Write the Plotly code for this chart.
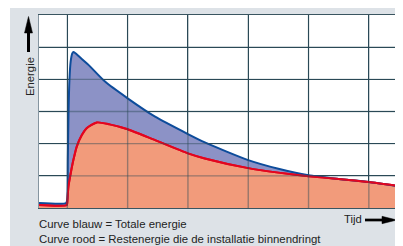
import plotly.graph_objects as go

# ---- data (time in grid units, energy in grid units) ----
blue_x = [-0.47, -0.02, 0.0, 0.008, 0.02, 0.035, 0.055, 0.08, 0.1, 0.13, 0.2, 0.35,
          0.625, 1.0, 1.455, 2.0, 2.28, 3.0, 3.5, 4.0, 4.5, 5.0, 5.5]
blue_y = [0.155, 0.155, 0.3, 1.5, 3.0, 4.0, 4.55, 4.8, 4.85, 4.82, 4.7, 4.45,
          3.93, 3.41, 2.84, 2.3, 2.04, 1.49, 1.22, 1.02, 0.905, 0.81, 0.675]

red_x = [-0.47, -0.01, 0.0, 0.017, 0.056, 0.1, 0.156, 0.24, 0.32, 0.49, 0.7, 1.0,
         1.455, 2.0, 2.28, 3.0, 3.5, 4.0, 4.5, 5.0, 5.5]
red_y = [0.093, 0.093, 0.2, 0.66, 1.08, 1.49, 1.91, 2.27, 2.48, 2.66, 2.6, 2.45,
         2.11, 1.70, 1.54, 1.24, 1.1, 0.99, 0.9, 0.81, 0.684]

x_ticks = [0, 1, 2, 3, 4, 5]
y_ticks = [1, 2, 3, 4, 5]

label_y = "Energie"
label_x = "Tijd"
legend_lines = ["Curve blauw = Totale energie",
                "Curve rood = Restenergie die de installatie binnendringt"]

# ---- styling ----
OFF = 8  # page body margin
W, H = 403 - OFF, 246 - OFF
L, T = 39 - OFF, 15 - OFF
PW, PH = 360, 193
R, B = W - L - PW, H - T - PH
GRAY = "#dde2e7"
GRID = "#2b4a57"
BLUE_LINE = "#0d4c9b"
RED_LINE = "#e3051f"
BLUE_FILL = "#8c92c6"
RED_FILL = "#f29b7b"
FONT = "Liberation Sans, Arial, sans-serif"


def fx(px):
    return (px - OFF - L) / PW


def fy(py):
    return (T + PH - (py - OFF)) / PH


fig = go.Figure()
fig.add_trace(go.Scatter(x=red_x, y=red_y, mode="lines", fill="tozeroy",
                         fillcolor=RED_FILL,
                         line=dict(color=RED_LINE, width=2, shape="spline", smoothing=0.6),
                         hoverinfo="skip"))
fig.add_trace(go.Scatter(x=blue_x, y=blue_y, mode="lines", fill="tonexty",
                         fillcolor=BLUE_FILL,
                         line=dict(color=BLUE_LINE, width=2, shape="spline", smoothing=0.6),
                         hoverinfo="skip"))
fig.add_trace(go.Scatter(x=red_x, y=red_y, mode="lines",
                         line=dict(color=RED_LINE, width=2, shape="spline", smoothing=0.6),
                         hoverinfo="skip"))

shapes = []
# white margin left of the gray panel
shapes.append(dict(type="rect", xref="paper", yref="paper", x0=fx(0), x1=fx(10),
                   y0=fy(260), y1=fy(0), fillcolor="white", line_width=0, layer="below"))
# grid lines seen through the fills
for xv in x_ticks:
    shapes.append(dict(type="line", xref="x", yref="paper", x0=xv, x1=xv, y0=0, y1=1,
                       line=dict(color="rgba(43,74,87,0.45)", width=1.4), layer="above"))
for yv in y_ticks:
    shapes.append(dict(type="line", xref="paper", yref="y", x0=0, x1=1, y0=yv, y1=yv,
                       line=dict(color="rgba(43,74,87,0.45)", width=1.4), layer="above"))
# up arrow (Energie)
shapes.append(dict(type="line", xref="paper", yref="paper", x0=fx(28.5), x1=fx(28.5),
                   y0=fy(52), y1=fy(31), line=dict(color="black", width=3)))
shapes.append(dict(type="path", xref="paper", yref="paper",
                   path=f"M {fx(24.5)},{fy(33)} L {fx(28.5)},{fy(16.5)} L {fx(32.5)},{fy(33)} Z",
                   fillcolor="black", line=dict(color="black", width=0.5)))
# right arrow (Tijd)
shapes.append(dict(type="line", xref="paper", yref="paper", x0=fx(365), x1=fx(384),
                   y0=fy(220), y1=fy(220), line=dict(color="black", width=2.7)))
shapes.append(dict(type="path", xref="paper", yref="paper",
                   path=f"M {fx(382)},{fy(216.3)} L {fx(397)},{fy(220)} L {fx(382)},{fy(223.7)} Z",
                   fillcolor="black", line=dict(color="black", width=0.5)))

annotations = [
    dict(text=label_y, xref="paper", yref="paper", x=fx(30), y=fy(77), textangle=-90,
         showarrow=False, xanchor="center", yanchor="middle",
         font=dict(family=FONT, size=11.3, color="#222")),
    dict(text=label_x, xref="paper", yref="paper", x=fx(363.5), y=fy(219),
         showarrow=False, xanchor="right", yanchor="middle",
         font=dict(family=FONT, size=11.3, color="#222")),
    dict(text=legend_lines[0], xref="paper", yref="paper", x=fx(37), y=fy(224),
         showarrow=False, xanchor="left", yanchor="middle",
         font=dict(family=FONT, size=11.4, color="#222")),
    dict(text=legend_lines[1], xref="paper", yref="paper", x=fx(37), y=fy(239),
         showarrow=False, xanchor="left", yanchor="middle",
         font=dict(family=FONT, size=11.4, color="#222")),
]

fig.update_layout(
    width=W, height=H,
    margin=dict(l=L, r=R, t=T, b=B, pad=0),
    paper_bgcolor=GRAY, plot_bgcolor="white",
    showlegend=False,
    shapes=shapes, annotations=annotations,
    xaxis=dict(range=[-0.47, 5.5], tickvals=x_ticks, showticklabels=False,
               showgrid=True, gridcolor=GRID, gridwidth=1.4, zeroline=False,
               showline=True, linecolor="#3a5560", linewidth=1.4, mirror=True,
               ticks="", fixedrange=True),
    yaxis=dict(range=[0, 6], tickvals=y_ticks, showticklabels=False,
               showgrid=True, gridcolor=GRID, gridwidth=1.4, zeroline=False,
               showline=True, linecolor="#8595a0", linewidth=1.4, mirror=True,
               ticks="", fixedrange=True),
)

fig.write_html("out.html", config={"displayModeBar": False})
